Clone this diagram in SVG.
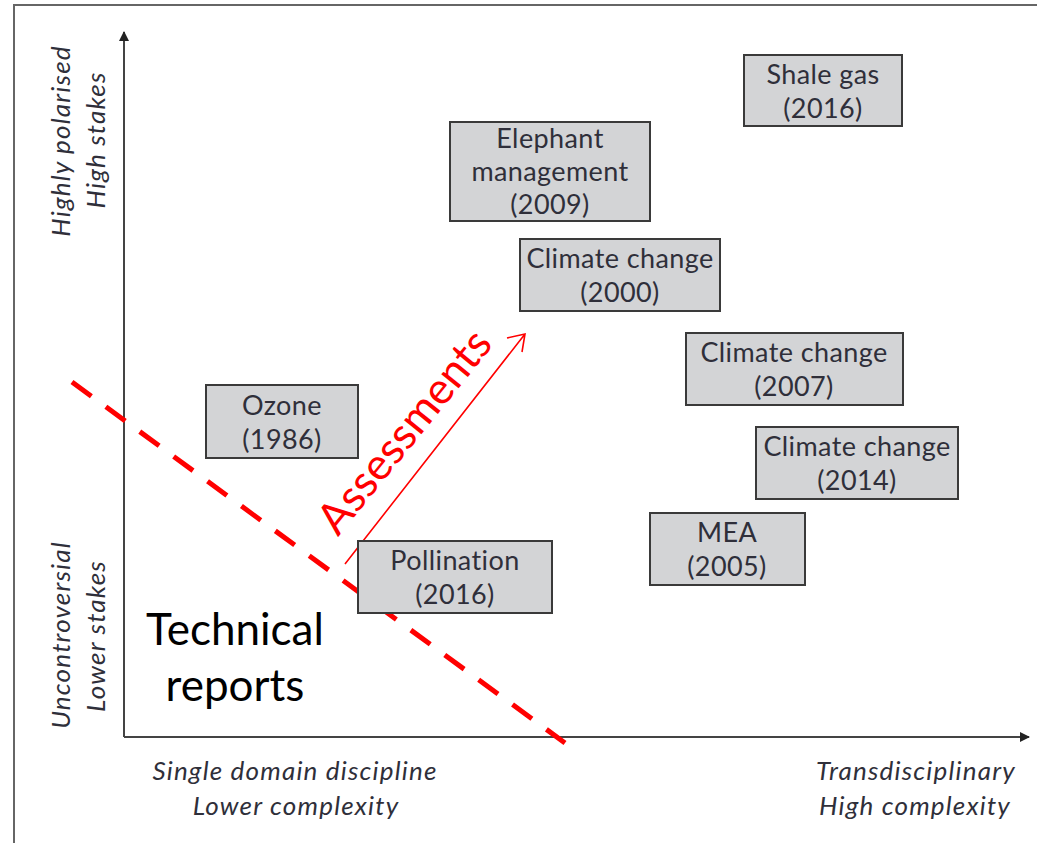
<svg xmlns="http://www.w3.org/2000/svg" width="1037" height="843" viewBox="0 0 1037 843">
<style>
.box rect{fill:#d3d4d6;stroke:#3a3a3a;stroke-width:2}
.box text{font-family:Lato,"Open Sans",sans-serif;font-size:27px;letter-spacing:0.4px;fill:#2f2f3a;text-anchor:middle}
.ax{font-family:Lato,"Open Sans",sans-serif;font-size:26px;letter-spacing:1.2px;font-style:italic;fill:#2f2f3a;text-anchor:middle}
.big{font-family:Lato,"Open Sans",sans-serif;font-size:44px;fill:#000;text-anchor:middle}
</style>
<defs>
<marker id="ah" markerWidth="10" markerHeight="10" refX="9" refY="5" orient="auto" markerUnits="userSpaceOnUse"><path d="M0,0 L10,5 L0,10 Z" fill="#222"/></marker>
</defs>
<rect width="1037" height="843" fill="#fff"/>
<path d="M14,843 L14,5 L1037,5" fill="none" stroke="#666" stroke-width="2"/>
<g id="connectors">
<line x1="124" y1="737" x2="124" y2="32" stroke="#444" stroke-width="2" marker-end="url(#ah)"/>
<line x1="124" y1="737" x2="1029" y2="737" stroke="#444" stroke-width="2" marker-end="url(#ah)"/>
<line x1="72" y1="382" x2="565" y2="743" stroke="#f00" stroke-width="5" stroke-dasharray="24,18"/>
<path d="M345,564 L525,334 M507,338 L525,334 L522,352" fill="none" stroke="#f00" stroke-width="1.6"/>
</g>
<g id="ylabels">
<text class="ax" transform="translate(70,141) rotate(-90)">Highly polarised</text>
<text class="ax" transform="translate(105,140) rotate(-90)">High stakes</text>
<text class="ax" transform="translate(70,635) rotate(-90)">Uncontroversial</text>
<text class="ax" transform="translate(105,636) rotate(-90)">Lower stakes</text>
</g>
<g id="xlabels">
<text class="ax" x="295" y="780">Single domain discipline</text>
<text class="ax" x="296" y="815">Lower complexity</text>
<text class="ax" x="916" y="780">Transdisciplinary</text>
<text class="ax" x="915" y="815">High complexity</text>
</g>
<g id="technical"><text class="big" x="235" y="645">Technical</text><text class="big" x="235" y="701">reports</text></g>
<g id="assessments"><text transform="translate(416,441) rotate(-51)" font-family="Lato,'Open Sans',sans-serif" font-size="44" fill="#f00" text-anchor="middle">Assessments</text></g>
<g id="shale" class="box"><rect x="744" y="55" width="158" height="71"/><text x="823" y="84">Shale gas</text><text x="823" y="118">(2016)</text></g>
<g id="elephant" class="box"><rect x="450" y="122" width="200" height="99"/><text x="550" y="148">Elephant</text><text x="550" y="181">management</text><text x="550" y="214">(2009)</text></g>
<g id="cc2000" class="box"><rect x="520" y="239" width="200" height="72"/><text x="620" y="268">Climate change</text><text x="620" y="302">(2000)</text></g>
<g id="cc2007" class="box"><rect x="686" y="333" width="217" height="72"/><text x="794" y="362">Climate change</text><text x="794" y="396">(2007)</text></g>
<g id="cc2014" class="box"><rect x="756" y="427" width="202" height="72"/><text x="857" y="456">Climate change</text><text x="857" y="490">(2014)</text></g>
<g id="mea" class="box"><rect x="650" y="513" width="155" height="72"/><text x="727" y="542">MEA</text><text x="727" y="576">(2005)</text></g>
<g id="ozone" class="box"><rect x="206" y="385" width="152" height="73"/><text x="282" y="415">Ozone</text><text x="282" y="449">(1986)</text></g>
<g id="pollination" class="box"><rect x="358" y="541" width="194" height="72"/><text x="455" y="570">Pollination</text><text x="455" y="604">(2016)</text></g>
</svg>
